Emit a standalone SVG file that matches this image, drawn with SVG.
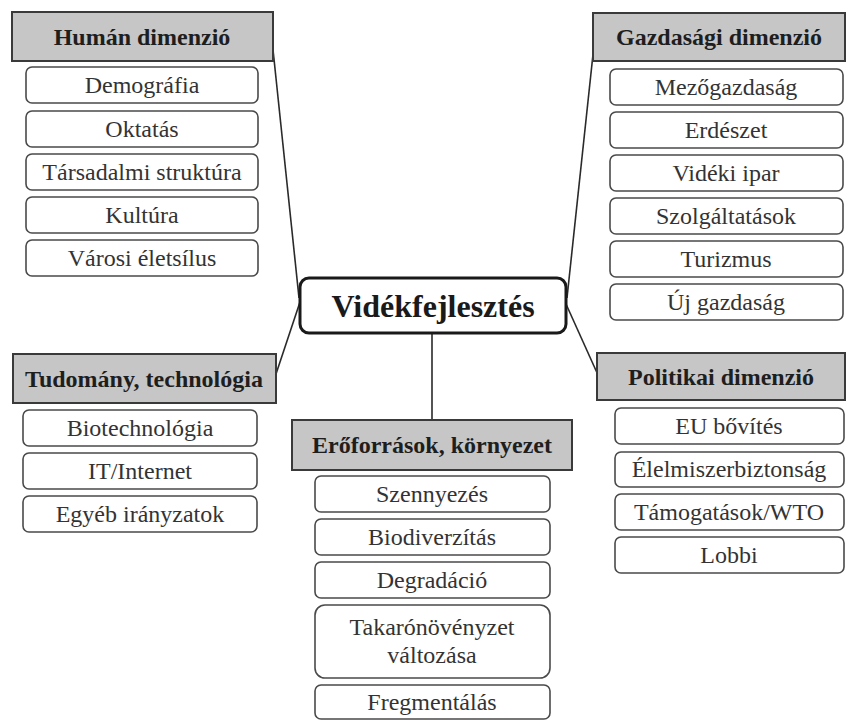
<svg xmlns="http://www.w3.org/2000/svg" width="846" height="720" viewBox="0 0 846 720">
<rect width="846" height="720" fill="#fff"/>
<g id="connectors" stroke="#2a2a2a" stroke-width="1.6" fill="none">
<line x1="272" y1="40" x2="299" y2="298"/>
<line x1="300" y1="302" x2="276" y2="374"/>
<line x1="594" y1="45" x2="567" y2="298"/>
<line x1="566" y1="304" x2="598" y2="375"/>
<line x1="432" y1="333" x2="432" y2="420"/>
</g>
<g id="center">
<rect x="300" y="278" width="266" height="55" rx="9" fill="#fff" stroke="#1a1a1a" stroke-width="3"/>
<text x="433" y="317" style="font-family:'Liberation Serif',serif;font-weight:bold;font-size:32px;fill:#1a1a1a;text-anchor:middle">Vidékfejlesztés</text>
</g>
<g id="human">
<rect x="12" y="12" width="261" height="49" fill="#c6c6c6" stroke="#3a3a3a" stroke-width="2"/>
<text x="142" y="45" style="font-family:'Liberation Serif',serif;font-weight:bold;font-size:24px;fill:#1e1e1e;text-anchor:middle">Humán dimenzió</text>
<g fill="#fff" stroke="#4a4a4a" stroke-width="1.6">
<rect x="26" y="67" width="232" height="36" rx="6"/>
<rect x="26" y="111" width="232" height="36" rx="6"/>
<rect x="26" y="154" width="232" height="36" rx="6"/>
<rect x="26" y="197" width="232" height="36" rx="6"/>
<rect x="26" y="240" width="232" height="36" rx="6"/>
</g>
<text x="142" y="93" style="font-family:'Liberation Serif',serif;font-size:24px;fill:#333;text-anchor:middle">Demográfia</text>
<text x="142" y="137" style="font-family:'Liberation Serif',serif;font-size:24px;fill:#333;text-anchor:middle">Oktatás</text>
<text x="142" y="180" style="font-family:'Liberation Serif',serif;font-size:24px;fill:#333;text-anchor:middle">Társadalmi struktúra</text>
<text x="142" y="223" style="font-family:'Liberation Serif',serif;font-size:24px;fill:#333;text-anchor:middle">Kultúra</text>
<text x="142" y="266" style="font-family:'Liberation Serif',serif;font-size:24px;fill:#333;text-anchor:middle">Városi életsílus</text>
</g>
<g id="gazdasagi">
<rect x="593" y="13" width="252" height="48" fill="#c6c6c6" stroke="#3a3a3a" stroke-width="2"/>
<text x="719" y="45" style="font-family:'Liberation Serif',serif;font-weight:bold;font-size:24px;fill:#1e1e1e;text-anchor:middle">Gazdasági dimenzió</text>
<g fill="#fff" stroke="#4a4a4a" stroke-width="1.6">
<rect x="610" y="69" width="233" height="36" rx="6"/>
<rect x="610" y="112" width="233" height="36" rx="6"/>
<rect x="610" y="155" width="233" height="36" rx="6"/>
<rect x="610" y="198" width="233" height="36" rx="6"/>
<rect x="610" y="241" width="233" height="36" rx="6"/>
<rect x="610" y="284" width="233" height="36" rx="6"/>
</g>
<text x="726" y="95" style="font-family:'Liberation Serif',serif;font-size:24px;fill:#333;text-anchor:middle">Mezőgazdaság</text>
<text x="726" y="138" style="font-family:'Liberation Serif',serif;font-size:24px;fill:#333;text-anchor:middle">Erdészet</text>
<text x="726" y="181" style="font-family:'Liberation Serif',serif;font-size:24px;fill:#333;text-anchor:middle">Vidéki ipar</text>
<text x="726" y="224" style="font-family:'Liberation Serif',serif;font-size:24px;fill:#333;text-anchor:middle">Szolgáltatások</text>
<text x="726" y="267" style="font-family:'Liberation Serif',serif;font-size:24px;fill:#333;text-anchor:middle">Turizmus</text>
<text x="726" y="310" style="font-family:'Liberation Serif',serif;font-size:24px;fill:#333;text-anchor:middle">Új gazdaság</text>
</g>
<g id="tudomany">
<rect x="13" y="354" width="263" height="49" fill="#c6c6c6" stroke="#3a3a3a" stroke-width="2"/>
<text x="144" y="387" style="font-family:'Liberation Serif',serif;font-weight:bold;font-size:24px;fill:#1e1e1e;text-anchor:middle">Tudomány, technológia</text>
<g fill="#fff" stroke="#4a4a4a" stroke-width="1.6">
<rect x="23" y="410" width="234" height="36" rx="6"/>
<rect x="23" y="453" width="234" height="36" rx="6"/>
<rect x="23" y="496" width="234" height="36" rx="6"/>
</g>
<text x="140" y="436" style="font-family:'Liberation Serif',serif;font-size:24px;fill:#333;text-anchor:middle">Biotechnológia</text>
<text x="140" y="479" style="font-family:'Liberation Serif',serif;font-size:24px;fill:#333;text-anchor:middle">IT/Internet</text>
<text x="140" y="522" style="font-family:'Liberation Serif',serif;font-size:24px;fill:#333;text-anchor:middle">Egyéb irányzatok</text>
</g>
<g id="eroforrasok">
<rect x="292" y="420" width="280" height="50" fill="#c6c6c6" stroke="#3a3a3a" stroke-width="2"/>
<text x="432" y="453" style="font-family:'Liberation Serif',serif;font-weight:bold;font-size:24px;fill:#1e1e1e;text-anchor:middle">Erőforrások, környezet</text>
<g fill="#fff" stroke="#4a4a4a" stroke-width="1.6">
<rect x="315" y="476" width="235" height="36" rx="6"/>
<rect x="315" y="519" width="235" height="36" rx="6"/>
<rect x="315" y="562" width="235" height="36" rx="6"/>
<rect x="315" y="605" width="235" height="73" rx="10"/>
<rect x="315" y="685" width="235" height="34" rx="6"/>
</g>
<text x="432" y="502" style="font-family:'Liberation Serif',serif;font-size:24px;fill:#333;text-anchor:middle">Szennyezés</text>
<text x="432" y="545" style="font-family:'Liberation Serif',serif;font-size:24px;fill:#333;text-anchor:middle">Biodiverzítás</text>
<text x="432" y="588" style="font-family:'Liberation Serif',serif;font-size:24px;fill:#333;text-anchor:middle">Degradáció</text>
<text x="432" y="635" style="font-family:'Liberation Serif',serif;font-size:24px;fill:#333;text-anchor:middle">Takarónövényzet</text>
<text x="432" y="663" style="font-family:'Liberation Serif',serif;font-size:24px;fill:#333;text-anchor:middle">változása</text>
<text x="432" y="710" style="font-family:'Liberation Serif',serif;font-size:24px;fill:#333;text-anchor:middle">Fregmentálás</text>
</g>
<g id="politikai">
<rect x="597" y="353" width="248" height="47" fill="#c6c6c6" stroke="#3a3a3a" stroke-width="2"/>
<text x="721" y="385" style="font-family:'Liberation Serif',serif;font-weight:bold;font-size:24px;fill:#1e1e1e;text-anchor:middle">Politikai dimenzió</text>
<g fill="#fff" stroke="#4a4a4a" stroke-width="1.6">
<rect x="615" y="408" width="229" height="36" rx="6"/>
<rect x="615" y="452" width="229" height="35" rx="6"/>
<rect x="615" y="494" width="229" height="36" rx="6"/>
<rect x="615" y="537" width="229" height="36" rx="6"/>
</g>
<text x="729" y="434" style="font-family:'Liberation Serif',serif;font-size:24px;fill:#333;text-anchor:middle">EU bővítés</text>
<text x="729" y="477" style="font-family:'Liberation Serif',serif;font-size:24px;fill:#333;text-anchor:middle">Élelmiszerbiztonság</text>
<text x="729" y="520" style="font-family:'Liberation Serif',serif;font-size:24px;fill:#333;text-anchor:middle">Támogatások/WTO</text>
<text x="729" y="563" style="font-family:'Liberation Serif',serif;font-size:24px;fill:#333;text-anchor:middle">Lobbi</text>
</g>
</svg>
